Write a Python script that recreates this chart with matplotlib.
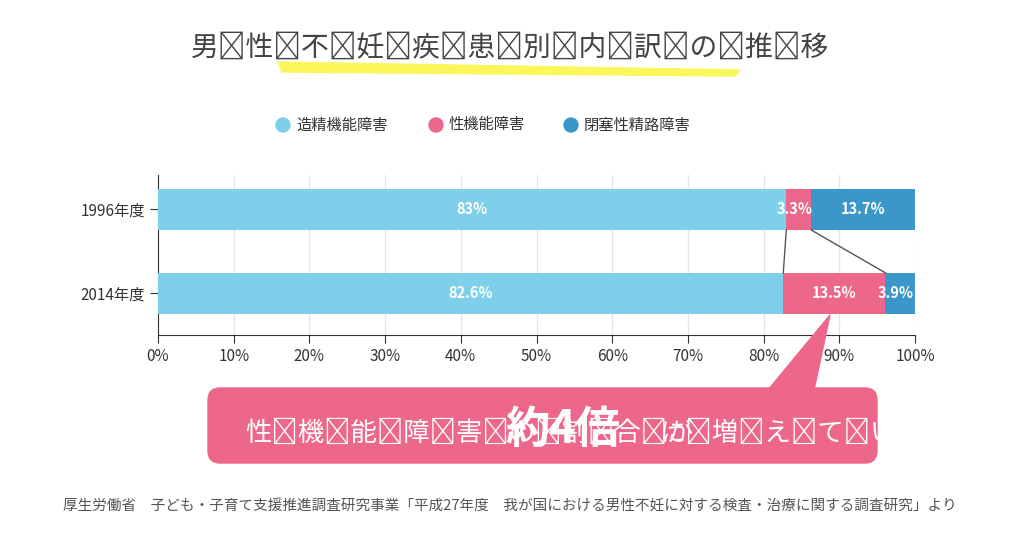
import matplotlib
matplotlib.use("Agg")
import matplotlib.pyplot as plt
from matplotlib.patches import FancyBboxPatch, Polygon, Ellipse

plt.rcParams["font.family"] = "Noto Sans CJK JP"

years = ["1996年度", "2014年度"]
series = ["造精機能障害", "性機能障害", "閉塞性精路障害"]
values = {
    "造精機能障害": [83.0, 82.6],
    "性機能障害": [3.3, 13.5],
    "閉塞性精路障害": [13.7, 3.9],
}
labels = {
    "造精機能障害": ["83%", "82.6%"],
    "性機能障害": ["3.3%", "13.5%"],
    "閉塞性精路障害": ["13.7%", "3.9%"],
}
colors = ["#7ecfe9", "#ec6789", "#3b97c9"]
ticks = list(range(0, 101, 10))

W, H = 1024, 538
fig = plt.figure(figsize=(W/100, H/100), dpi=100)
fig.patch.set_facecolor("white")
ax = fig.add_axes([158/W, (H-335)/H, (915-158)/W, 160/H])

bh = 0.49
left = [0, 0]
for s, c in zip(series, colors):
    v = values[s]
    ax.barh(range(len(years)), v, left=left, height=bh, color=c, zorder=3)
    for i, (val, l) in enumerate(zip(v, left)):
        x = l + val/2
        if s == "性機能障害" and i == 0:
            x = l + val/2 - 0.6
        if s == "閉塞性精路障害" and i == 1:
            x = l + val/2 - 0.6
        ax.text(x, i, labels[s][i], ha="center", va="center", color="white",
                fontsize=10.5, fontweight="bold", zorder=5)
    left = [a+b for a, b in zip(left, v)]

c0 = values["造精機能障害"]
c1 = [a+b for a, b in zip(c0, values["性機能障害"])]
ax.plot([c0[0], c0[1]], [bh/2, 1-bh/2], color="#555555", lw=1, zorder=4)
ax.plot([c1[0], c1[1]], [bh/2, 1-bh/2], color="#555555", lw=1, zorder=4)

ax.set_xlim(0, 100)
ax.set_ylim(1.494, -0.41)
ax.set_yticks(range(len(years)))
ax.set_yticklabels(years, fontsize=11, color="#333333")
ax.set_xticks(ticks)
ax.set_xticklabels([f"{t}%" for t in ticks], fontsize=11, color="#333333")
ax.grid(axis="x", color="#e6e6e6", lw=1, zorder=0)
for sp in ["top", "right"]:
    ax.spines[sp].set_visible(False)
ax.spines["left"].set_color("#333333")
ax.spines["bottom"].set_color("#333333")
ax.tick_params(axis="both", color="#333333", length=6)

def spaced(t):
    return "\u2009".join(t)

fig.patches.append(Polygon([[278/W, (H-62)/H], [740/W, (H-70)/H], [735/W, (H-76)/H], [282/W, (H-72)/H]],
                           closed=True, transform=fig.transFigure, color="#fbf65a", zorder=0))
fig.text(510/W, (H-48)/H, spaced("男性不妊疾患別内訳の推移"), ha="center", va="center",
         fontsize=20, color="#444444")

lx = [283, 436, 571]
for x, s, c in zip(lx, series, colors):
    fig.patches.append(Ellipse((x/W, (H-125)/H), 14/W, 14/H, transform=fig.transFigure, color=c))
    fig.text((x+13)/W, (H-125)/H, s, ha="left", va="center", fontsize=11, color="#333333")

pink = "#ec6789"
fig.patches.append(FancyBboxPatch((208/W, (H-463)/H), 669/W, 75/H,
                                  boxstyle="round,pad=0,rounding_size=0.012",
                                  transform=fig.transFigure, color=pink, mutation_aspect=W/H))
fig.patches.append(Polygon([[768/W, (H-390)/H], [830/W, (H-315)/H], [814/W, (H-390)/H]],
                           closed=True, transform=fig.transFigure, color=pink))
fig.text(245/W, (H-433)/H, spaced("性機能障害の割合が"), ha="left", va="center", fontsize=19, color="white")
fig.text(505/W, (H-430)/H, "約4倍", ha="left", va="center", fontsize=32, color="white", fontweight="bold")
fig.text(660/W, (H-433)/H, spaced("に増えている"), ha="left", va="center", fontsize=19, color="white")

fig.text(510/W, (H-507)/H,
         "厚生労働省　子ども・子育て支援推進調査研究事業「平成27年度　我が国における男性不妊に対する検査・治療に関する調査研究」より",
         ha="center", va="center", fontsize=10.5, color="#555555")

fig.savefig("out.png", dpi=100, facecolor="white")
